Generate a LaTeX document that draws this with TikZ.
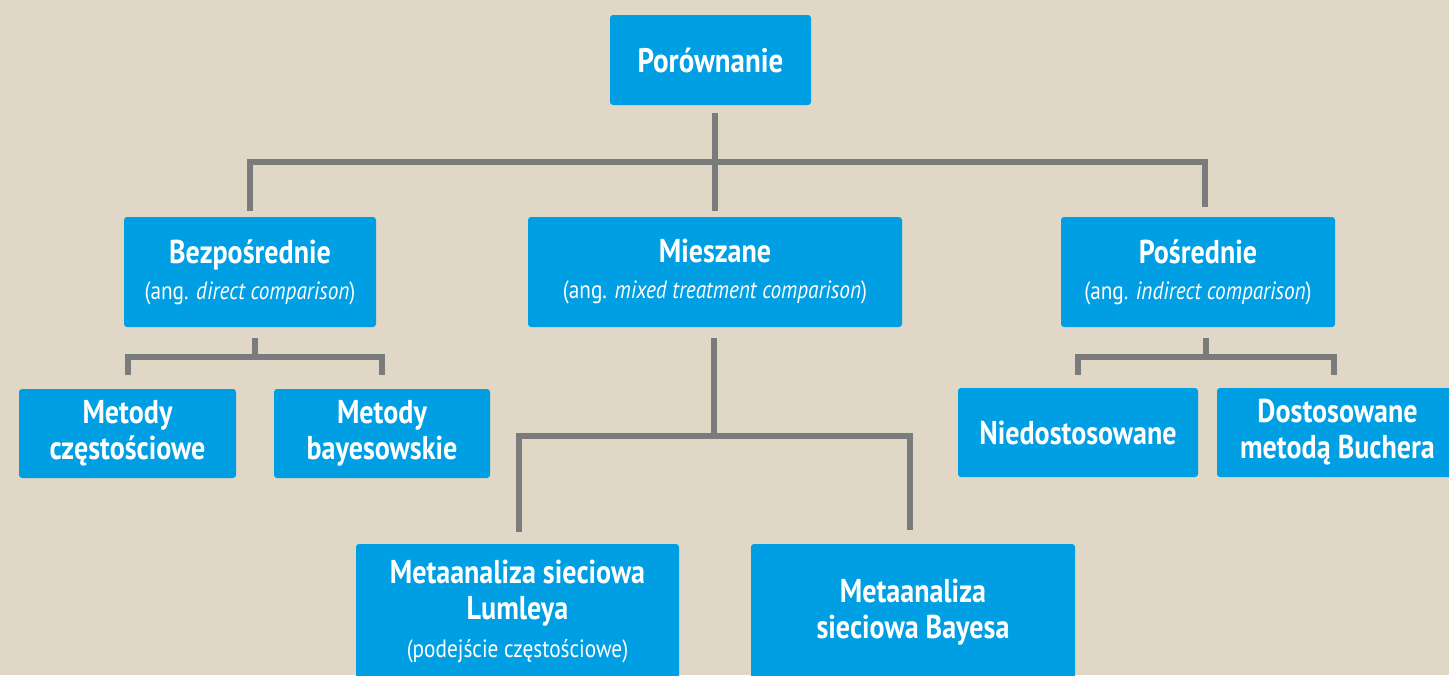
\documentclass[tikz,border=0pt]{standalone}
\usepackage{fontspec}
\setmainfont{PT Sans}[FakeStretch=0.85]
\definecolor{bg}{RGB}{224,215,198}
\definecolor{boxblue}{RGB}{0,159,227}
\definecolor{conngray}{RGB}{122,124,124}
\newcommand\subtxt[1]{{\normalfont\fontsize{25}{28}\selectfont #1}}
\begin{document}
\begin{tikzpicture}[x=1pt,y=-1pt,
  box/.style={fill=boxblue, rounded corners=3pt, text=white, align=center, inner sep=0pt,
    font=\bfseries\fontsize{33}{36}\selectfont},
  conn/.style={draw=conngray, line width=6pt, line cap=butt, line join=miter}]
\useasboundingbox (0,0) rectangle (1449,675);
\clip (0,0) rectangle (1449,675);
\fill[bg] (0,0) rectangle (1449,675);

% level 0
\node[box, minimum width=201pt, minimum height=90pt, font=\bfseries\fontsize{34}{36}\selectfont] (top) at (710.5,60) {Porównanie};
% level 1
\node[box, minimum width=252pt, minimum height=110pt] (direct) at (250,272)
  {Bezpośrednie\\[0pt]\subtxt{(ang. \textit{direct comparison})}};
\node[box, minimum width=374pt, minimum height=110pt] (mixed) at (715,272)
  {Mieszane\\[0pt]\subtxt{(ang. \textit{mixed treatment comparison})}};
\node[box, minimum width=274pt, minimum height=110pt] (indirect) at (1198,272)
  {Pośrednie\\[0pt]\subtxt{(ang. \textit{indirect comparison})}};
% level 2
\node[box, minimum width=217pt, minimum height=89pt] (freq) at (127.5,433.5) {Metody\\częstościowe};
\node[box, minimum width=216pt, minimum height=89pt] (bayes) at (382,433.5) {Metody\\bayesowskie};
\node[box, minimum width=240pt, minimum height=89pt] (unadj) at (1078,432.5) {Niedostosowane};
\node[box, minimum width=241pt, minimum height=89pt] (adj) at (1337.5,432.5) {Dostosowane\\metodą Buchera};
% level 3
\node[box, minimum width=323pt, minimum height=136pt] (lumley) at (517.5,612)
  {Metaanaliza sieciowa\\Lumleya\\[2pt]\subtxt{(podejście częstościowe)}};
\node[box, minimum width=324pt, minimum height=136pt] (bayesnet) at (913,612)
  {Metaanaliza\\sieciowa Bayesa};

% connectors: top level
\coordinate (busL) at ([yshift=55pt]direct.north);
\coordinate (busR) at ([xshift=7pt,yshift=55pt]indirect.north);
\draw[conn] ([yshift=-8pt]top.south -| mixed.north) -- ([yshift=6pt]mixed.north);
\draw[conn] ([yshift=6pt]direct.north) -- (busL) -- (busR) -- ([xshift=7pt,yshift=10pt]indirect.north);

% direct sub-tree
\coordinate (dJ) at ([xshift=5pt,yshift=-30pt]direct.south);
\draw[conn] ([xshift=5pt,yshift=-11pt]direct.south) -- (dJ);
\draw[conn] ([yshift=14pt]freq.north) |- (dJ) -| ([yshift=14pt]bayes.north);

% indirect sub-tree
\coordinate (iJ) at ([xshift=8pt,yshift=-30pt]indirect.south);
\draw[conn] ([xshift=8pt,yshift=-11pt]indirect.south) -- (iJ);
\draw[conn] ([yshift=13pt]unadj.north) |- (iJ) -| ([xshift=-4pt,yshift=13pt]adj.north);

% mixed sub-tree
\coordinate (mJ) at ([xshift=-1pt,yshift=-109pt]mixed.south);
\draw[conn] ([xshift=-1pt,yshift=-11pt]mixed.south) -- (mJ);
\draw[conn] ([xshift=1.5pt,yshift=12pt]lumley.north) |- (mJ) -| ([xshift=-3pt,yshift=14pt]bayesnet.north);
\end{tikzpicture}
\end{document}
